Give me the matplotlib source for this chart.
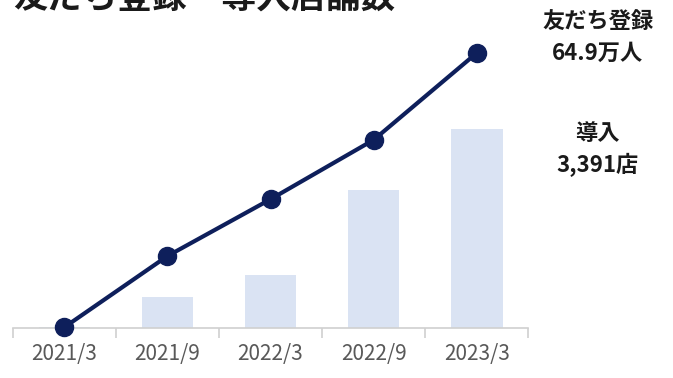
import matplotlib
matplotlib.use("Agg")
import matplotlib.pyplot as plt
import numpy as np

plt.rcParams["font.family"] = ["Noto Sans CJK JP", "DejaVu Sans"]

periods = ["2021/3", "2021/9", "2022/3", "2022/9", "2023/3"]
friends_man = [0.2, 17.0, 30.4, 44.4, 64.9]      # 友だち登録 (万人)
stores = [17, 527, 900, 2346, 3391]              # 導入店舗数

NAVY = "#0e1f5b"
BAR = "#dae3f3"
GRID = "#d0d0d0"
INK = "#1a1a1a"

fig = plt.figure(figsize=(6.73, 3.78), dpi=100)
ax = fig.add_axes([0.019, 0.132, 0.766, 0.794])
ax2 = ax.twinx()

x = np.arange(len(periods))
ax.bar(x, stores, width=0.5, color=BAR, zorder=1)
ax.set_ylim(0, 5100)
ax.set_xlim(-0.5, len(periods) - 0.5)

ax2.plot(x, friends_man, "-o", color=NAVY, lw=3, ms=13, zorder=3, clip_on=False)
ax2.set_ylim(0, 70.8)

for a in (ax, ax2):
    for s in ("top", "right", "left"):
        a.spines[s].set_visible(False)
    a.set_yticks([])
ax2.spines["bottom"].set_visible(False)
ax.spines["bottom"].set_color(GRID)
ax.spines["bottom"].set_linewidth(1.2)

ax.set_xticks(x)
ax.set_xticklabels(periods, fontsize=15, color="#595959")
ax.tick_params(axis="x", which="major", length=0, pad=11)
ax.set_xticks(np.arange(-0.5, len(periods)), minor=True)
ax.tick_params(axis="x", which="minor", length=7, width=1.2, color=GRID)

ax.set_zorder(1)
ax2.set_zorder(2)

# heading sits partly above the canvas edge
fig.text(0.02, 1.005, "友だち登録・導入店舗数", fontsize=25, fontweight="bold",
         color=INK, va="center", ha="left")

side = dict(fontsize=16, fontweight="bold", color=INK, ha="center", va="center")
fig.text(0.888, 0.942, "友だち登録", **side)
fig.text(0.888, 0.860, f"{friends_man[-1]}万人", **side)
fig.text(0.888, 0.648, "導入", **side)
fig.text(0.888, 0.563, f"{stores[-1]:,}店", **side)

fig.savefig("out.png", dpi=100)
